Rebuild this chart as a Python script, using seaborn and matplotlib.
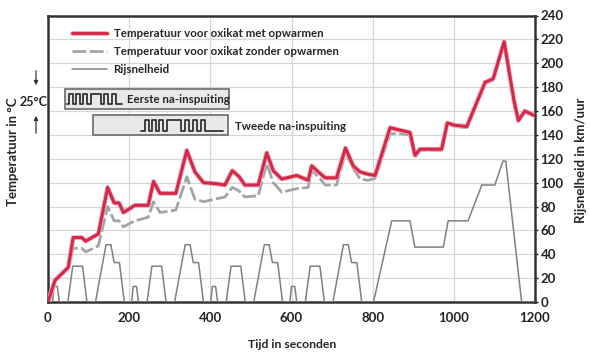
import numpy as np
import pandas as pd
import matplotlib
matplotlib.use("Agg")
import matplotlib.pyplot as plt
import matplotlib.patheffects as pe
from matplotlib.patches import Rectangle, FancyArrowPatch
from matplotlib.lines import Line2D
import seaborn as sns

# ---------------- data ----------------
t_temp = [0, 17, 50, 62, 83, 93, 124, 147, 163, 175, 186, 214, 247, 260, 276, 315,
          342, 362, 383, 416, 436, 454, 471, 485, 518, 539, 555, 576, 613, 641, 650,
          666, 683, 711, 733, 752, 769, 789, 806, 843, 867, 892, 904, 917, 970, 984,
          1003, 1032, 1077, 1097, 1124, 1148, 1159, 1175, 1200]
temp_met = [0, 18, 29, 54, 54, 51, 57, 96, 83, 83, 75, 81, 81, 101, 91, 91,
            127, 109, 100, 99, 98, 110, 105, 98, 98, 125, 110, 103, 106, 102, 114,
            109, 104, 104, 129, 114, 109, 107, 106, 146, 144, 142, 123, 128, 128, 150,
            148, 147, 184, 187, 218, 169, 152, 160, 156]
temp_zonder = [0, 18, 29, 45, 45, 42, 47, 80, 68, 68, 63, 68, 71, 84, 75, 77,
               105, 86, 84, 86.5, 88, 96, 93, 88, 89, 116, 100, 92, 95, 96, 110,
               105, 98, 98, 125, 112, 103, 102, 103.5, 141, 141, 140, 121, 127, 127, 149,
               147, 146, 183, 186, 217, 168, 151, 159, 155]

t_speed = [0, 11, 15, 23, 28, 49, 61, 85, 96, 117, 143, 155, 163, 176, 188,
           195, 206, 210, 218, 223, 244, 256, 280, 291, 312, 338, 350, 358, 371, 383,
           390, 401, 405, 413, 418, 439, 451, 475, 486, 507, 533, 545, 553, 566, 578,
           585, 596, 600, 608, 613, 634, 646, 670, 681, 702, 728, 740, 748, 761, 773,
           802, 847, 892, 904, 974, 986, 1035, 1069, 1101, 1121, 1128, 1167, 1200]
speed = [0, 0, 13, 13, 0, 0, 30, 30, 0, 0, 48, 48, 33, 33, 0,
         0, 0, 13, 13, 0, 0, 30, 30, 0, 0, 48, 48, 33, 33, 0,
         0, 0, 13, 13, 0, 0, 30, 30, 0, 0, 48, 48, 33, 33, 0,
         0, 0, 13, 13, 0, 0, 30, 30, 0, 0, 48, 48, 33, 33, 0,
         0, 68, 68, 46, 46, 68, 68, 98, 98, 118, 118, 0, 0]

x_ticks = [0, 200, 400, 600, 800, 1000, 1200]
y_ticks = [0, 20, 40, 60, 80, 100, 120, 140, 160, 180, 200, 220, 240]

lbl_met = "Temperatuur voor oxikat met opwarmen"
lbl_zonder = "Temperatuur voor oxikat zonder opwarmen"
lbl_speed = "Rijsnelheid"

df_met = pd.DataFrame({"t": t_temp, "v": temp_met})
df_zonder = pd.DataFrame({"t": t_temp, "v": temp_zonder})
df_speed = pd.DataFrame({"t": t_speed, "v": speed})

# ---------------- style ----------------
sns.set_theme(style="white")
plt.rcParams["font.family"] = ["Lato", "DejaVu Sans"]
plt.rcParams["font.weight"] = "bold"

W, H = 590, 352
fig = plt.figure(figsize=(W / 100, H / 100), dpi=100)
fig.patch.set_facecolor("white")
ax = fig.add_axes([48 / W, 1 - 302 / H, (535 - 48) / W, (302 - 15.5) / H])

RED = "#d42a4a"
GREY_T = "#9ea6ab"
GREY_S = "#808080"

sns.lineplot(data=df_speed, x="t", y="v", ax=ax, color=GREY_S, linewidth=1.1,
             estimator=None, label=lbl_speed, zorder=3)
sns.lineplot(data=df_zonder, x="t", y="v", ax=ax, color=GREY_T, linewidth=2.0,
             estimator=None, label=lbl_zonder, zorder=4)
ax.lines[-1].set_dashes([5, 1.2])
sns.lineplot(data=df_met, x="t", y="v", ax=ax, color=RED, linewidth=2.2,
             estimator=None, label=lbl_met, zorder=5)
ax.lines[-1].set_path_effects([pe.Stroke(linewidth=3.4, foreground="#f0a8b8"), pe.Normal()])

ax.set_xlim(0, 1200)
ax.set_ylim(0, 240)
ax.set_xticks(x_ticks)
ax.set_yticks(y_ticks)
ax.set_xticklabels([str(v) for v in x_ticks])
ax.set_yticklabels([str(v) for v in y_ticks])
ax.grid(True, color="#d6d6d6", linewidth=0.9)
ax.set_axisbelow(True)
ax.yaxis.tick_right()
ax.tick_params(axis="y", left=False, right=True, length=2, width=1, labelsize=9.5,
               pad=2, colors="#222222")
ax.tick_params(axis="x", length=0, labelsize=9.5, pad=7, colors="#222222")
for lab in ax.get_xticklabels() + ax.get_yticklabels():
    lab.set_fontweight("bold")
for s in ax.spines.values():
    s.set_color("#333333")
    s.set_linewidth(1.8)
ax.set_xlabel("")
ax.set_ylabel("")

# legend
h, l = ax.get_legend_handles_labels()
order = [l.index(lbl_met), l.index(lbl_zonder), l.index(lbl_speed)]
leg = ax.legend([h[i] for i in order], [l[i] for i in order], loc="upper left",
                bbox_to_anchor=(72 / W, 1 - 28 / H), bbox_transform=fig.transFigure,
                frameon=False, fontsize=8.3, handlelength=3.0, handletextpad=0.6,
                labelspacing=0.6, borderpad=0, borderaxespad=0)
for t in leg.get_texts():
    t.set_fontweight("bold")
leg_lines = leg.get_lines()
leg_lines[0].set_path_effects([pe.Stroke(linewidth=3.4, foreground="#f0a8b8"), pe.Normal()])

# axis titles
fig.text(292 / W, 1 - 345 / H, "Tijd in seconden", ha="center", va="center",
         fontsize=8.8, fontweight="bold")
fig.text(13 / W, 1 - 152 / H, "Temperatuur in °C", ha="center", va="center",
         rotation=90, fontsize=9.5, fontweight="bold")
fig.text(581 / W, 1 - 160 / H, "Rijsnelheid in km/uur", ha="center", va="center",
         rotation=90, fontsize=9.5, fontweight="bold")


def fpx(x, y):
    return (x / W, 1 - y / H)


# 25 °C marker with arrows
fig.text(34 / W, 1 - 102 / H, "25°C", ha="center", va="center", fontsize=9,
         fontweight="bold")
fig.add_artist(FancyArrowPatch(fpx(36, 68), fpx(36, 88), transform=fig.transFigure,
                               arrowstyle="-|>", mutation_scale=6, color="#333333", lw=0.9))
fig.add_artist(FancyArrowPatch(fpx(36, 136), fpx(36, 113), transform=fig.transFigure,
                               arrowstyle="-|>", mutation_scale=6, color="#333333", lw=0.9))


# injection boxes (decoration)
def box(x0, y0, x1, y1):
    fig.add_artist(Rectangle(fpx(x0, y1), (x1 - x0) / W, (y1 - y0) / H,
                             transform=fig.transFigure, facecolor="#e9e9e9",
                             edgecolor="#6a6a6a", lw=1.2, zorder=6))


def wave(x0, x1, highs, ylow, yhigh):
    xs, ys = [x0], [ylow]
    for a, b in highs:
        xs += [a, a, b, b]
        ys += [ylow, yhigh, yhigh, ylow]
    xs.append(x1)
    ys.append(ylow)
    pts = [fpx(x, y) for x, y in zip(xs, ys)]
    fig.add_artist(Line2D([p[0] for p in pts], [p[1] for p in pts],
                          transform=fig.transFigure, color="#333333", lw=1.3, zorder=7))


box(65, 89, 229, 109)
wave(67, 122, [(68.5, 72.5), (75.5, 79.5), (82.5, 86.5), (91, 101), (104, 108.5), (111.5, 116)],
     104, 94)
fig.text(127 / W, 1 - 99.5 / H, "Eerste na-inspuiting", ha="left", va="center",
         fontsize=8.3, fontweight="bold", zorder=8)
box(93, 114.5, 228, 135)
wave(141, 223, [(145, 149), (152, 156), (159, 163), (167, 181), (185, 189), (193, 197), (201, 205)],
     131, 120)
fig.text(235 / W, 1 - 126 / H, "Tweede na-inspuiting", ha="left", va="center",
         fontsize=8.3, fontweight="bold", zorder=8)

fig.savefig("out.png", dpi=100)
